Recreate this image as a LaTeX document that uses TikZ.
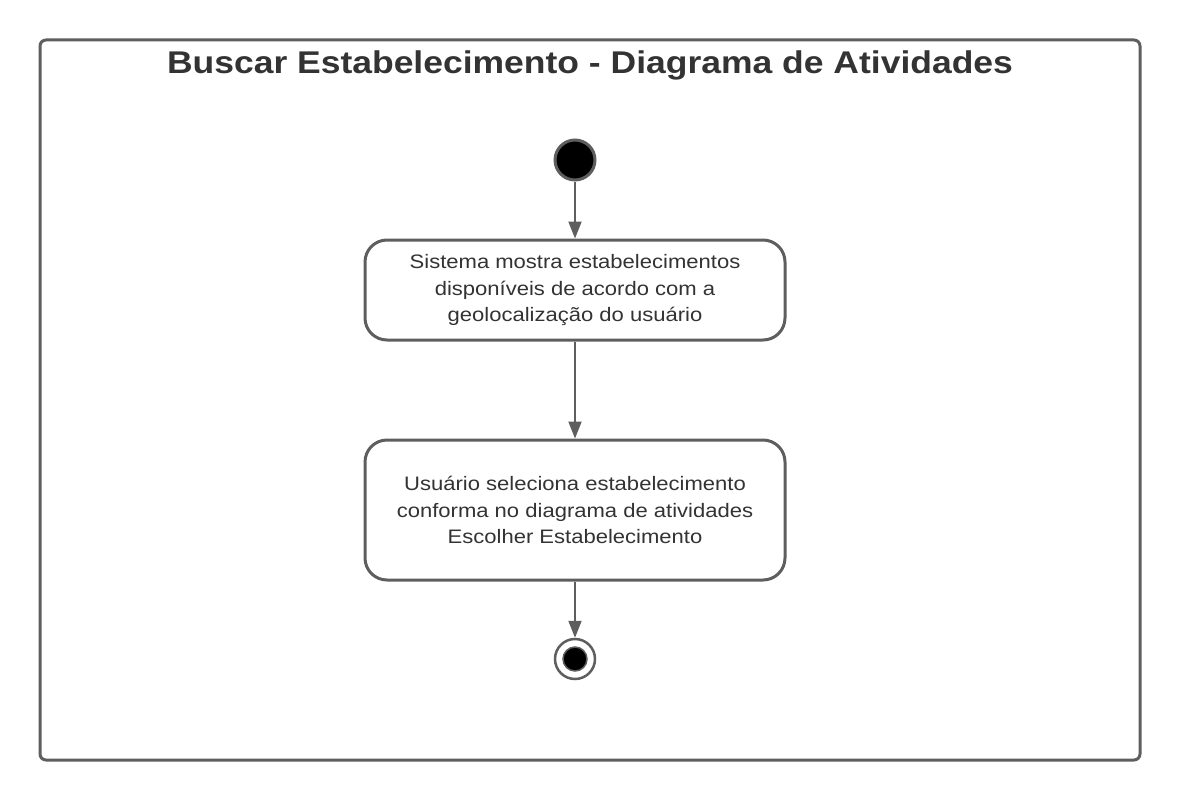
\documentclass[tikz,border=0pt]{standalone}
\usepackage{fontspec}
\setmainfont[FakeStretch=1.13]{Liberation Sans}
\usetikzlibrary{arrows.meta}
\definecolor{linegray}{HTML}{5E5E5E}
\definecolor{textgray}{HTML}{333333}
\tikzset{
  frame/.style={draw=linegray, line width=3pt, rounded corners=6pt},
  activity/.style={draw=linegray, line width=3pt, rounded corners=22pt, fill=white,
    minimum width=420pt, align=center, text=textgray, font=\fontsize{19.5}{26.3}\selectfont, inner sep=0pt},
  flow/.style={draw=linegray, line width=2pt, -{Triangle[length=17pt,width=13pt]}},
  initnode/.style={circle, draw=linegray, line width=3pt, fill=black, minimum size=40pt, inner sep=0pt},
}
\begin{document}
\begin{tikzpicture}[x=1pt,y=-1pt]
\useasboundingbox (0,0) rectangle (1180,800);
\draw[frame] (40,40) rectangle (1140,760);
\node[font=\bfseries\fontsize{31.4}{38}\selectfont, text=textgray] (title) at (590,65) {Buscar Estabelecimento - Diagrama de Atividades};
\node[initnode] (start) at (575,160) {};
\node[activity, minimum height=100pt] (a1) at (575,290) {Sistema mostra estabelecimentos\\disponíveis de acordo com a\\geolocalização do usuário};
\node[activity, minimum height=140pt] (a2) at (575,510) {Usuário seleciona estabelecimento\\conforma no diagrama de atividades\\Escolher Estabelecimento};
\node[circle, draw=linegray, line width=2.5pt, minimum size=40pt, inner sep=0pt] (end) at (575,659) {};
\node[circle, fill=black, draw=linegray, line width=1.5pt, minimum size=24pt, inner sep=0pt] (endin) at (end.center) {};
\draw[flow] (start) -- (a1);
\draw[flow] (a1) -- (a2);
\draw[flow] (a2) -- (end);
\end{tikzpicture}
\end{document}
